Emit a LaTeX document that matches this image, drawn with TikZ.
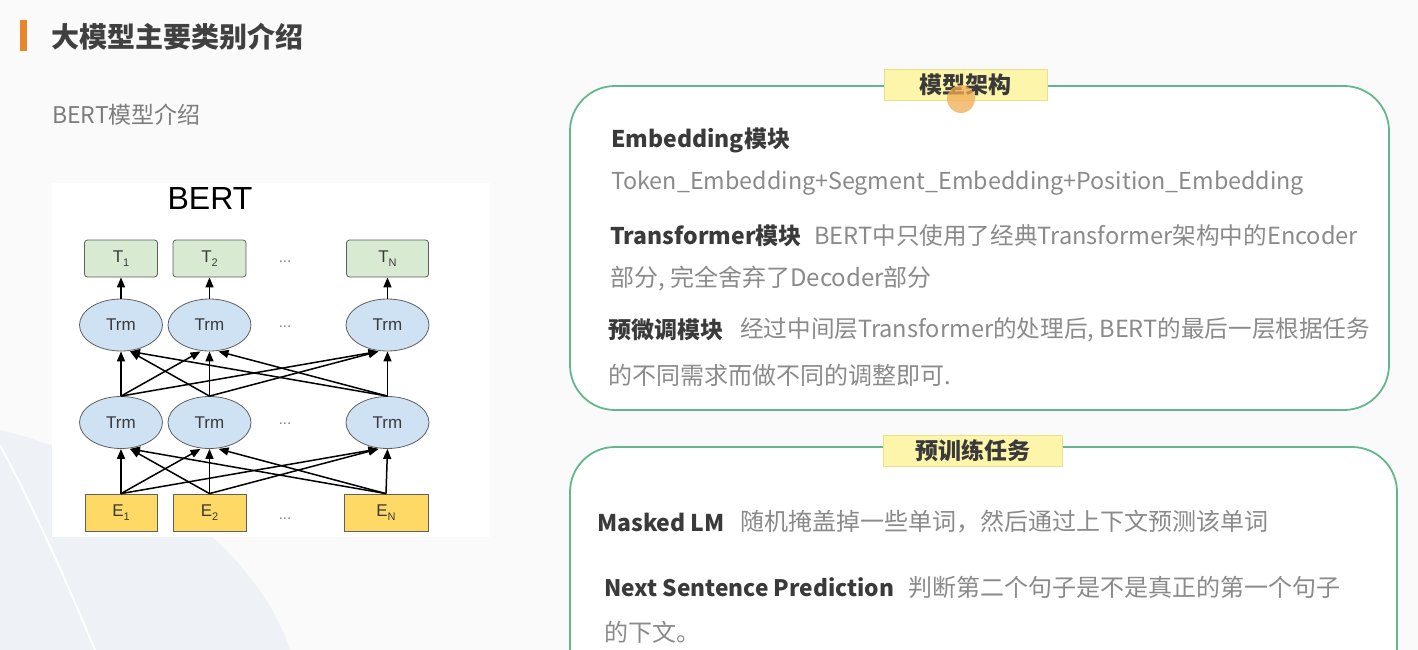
\documentclass[tikz,border=0pt]{standalone}
\usepackage{fontspec}
\setmainfont{Noto Sans CJK SC}
\newfontfamily\arial{Liberation Sans}
\usetikzlibrary{shapes.geometric,arrows.meta}
\definecolor{pagebg}{RGB}{250,250,251}
\definecolor{swoosh}{RGB}{238,241,245}
\definecolor{barorange}{RGB}{232,134,42}
\definecolor{headgray}{RGB}{64,64,64}
\definecolor{subgray}{RGB}{125,125,125}
\definecolor{boldgray}{RGB}{58,58,58}
\definecolor{lightgray}{RGB}{138,138,138}
\definecolor{edgegray}{RGB}{95,95,95}
\definecolor{tgreen}{RGB}{217,234,211}
\definecolor{tblue}{RGB}{207,226,243}
\definecolor{eyellow}{RGB}{255,217,102}
\definecolor{panelgreen}{RGB}{98,184,140}
\definecolor{tagfill}{RGB}{253,246,170}
\definecolor{tagedge}{RGB}{232,224,140}
\definecolor{cursor}{RGB}{240,172,84}
\newcommand{\sub}[1]{\raisebox{-4pt}{\fontsize{11}{11}\selectfont #1}}
\tikzset{
  tok/.style={draw=edgegray, line width=0.8pt, minimum height=37pt, inner sep=0pt,
    text=boldgray, font=\arial\fontsize{17}{17}\selectfont},
  outbox/.style={tok, fill=tgreen, rounded corners=3pt},
  embbox/.style={tok, fill=eyellow},
  trm/.style={ellipse, draw=edgegray, line width=0.8pt, fill=tblue, minimum width=83pt,
    minimum height=52pt, inner sep=0pt, text=boldgray, font=\arial\fontsize{17}{17}\selectfont},
  gap/.style={text=subgray, font=\arial\fontsize{15}{15}\selectfont, inner sep=0pt},
  link/.style={-{Triangle[length=10pt,width=8pt]}, line width=1.5pt, black},
  panel/.style={draw=panelgreen, line width=1.8pt, fill=white, rounded corners=45pt},
  tag/.style={draw=tagedge, line width=0.8pt, fill=tagfill, text=boldgray, inner sep=0pt,
    minimum height=31pt, font=\fontsize{23}{23}\selectfont\bfseries},
  strong/.style={anchor=west, inner sep=0pt, text=boldgray, font=\fontsize{23}{23}\selectfont\bfseries},
  plain/.style={anchor=west, inner sep=0pt, text=lightgray, font=\fontsize{24}{24}\selectfont},
}
\begin{document}
\begin{tikzpicture}[x=1pt,y=-1pt]
  \useasboundingbox (0,0) rectangle (1418,650);
  \clip (0,0) rectangle (1418,650);
  \fill[pagebg] (0,0) rectangle (1418,650);
  \fill[swoosh] (0,430) .. controls (160,470) and (260,560) .. (290,650) -- (0,650) -- cycle;
  \draw[white, line width=2pt] (0,445) .. controls (40,520) and (70,590) .. (95,650);

  % heading
  \fill[barorange] (20,20) rectangle (27,51);
  \node[anchor=west, inner sep=0pt, text=headgray, font=\fontsize{28}{28}\selectfont\bfseries]
    (title) at (51,37) {大模型主要类别介绍};
  \node[anchor=west, inner sep=0pt, text=subgray, font=\fontsize{23}{23}\selectfont]
    (subtitle) at (52,115) {BERT模型介绍};

  % BERT figure
  \fill[white] (52,183) rectangle (490,537);
  \node[font=\arial\fontsize{32}{32}\selectfont, text=black, inner sep=0pt] (bert) at (210,198) {BERT};
  \draw
    (121,258.5) node[outbox, minimum width=73pt] (out1) {T\sub{1}}
    (209.5,258.5) node[outbox, minimum width=73pt] (out2) {T\sub{2}}
    (387.5,258.5) node[outbox, minimum width=82pt] (outN) {T\sub{N}}
    (121,325) node[trm] (up1) {Trm}
    (209.5,325) node[trm] (up2) {Trm}
    (387.5,325) node[trm] (upN) {Trm}
    (121,422.5) node[trm] (low1) {Trm}
    (209.5,422.5) node[trm] (low2) {Trm}
    (387.5,422.5) node[trm] (lowN) {Trm}
    (121,512.5) node[embbox, minimum width=72pt] (emb1) {E\sub{1}}
    (209.5,512.5) node[embbox, minimum width=73pt] (emb2) {E\sub{2}}
    (386,512.5) node[embbox, minimum width=84pt] (embN) {E\sub{N}};
  \node[gap] (dotsT) at (285,262) {...};
  \node[gap] (dotsU) at (285,327) {...};
  \node[gap] (dotsL) at (285,424) {...};
  \node[gap] (dotsE) at (285,519) {...};
  \begin{scope}[link]
    \draw (emb1.north) to (low1.south);
    \draw (emb1.north) to ([xshift=-9pt]low2.south);
    \draw (emb1.north) to ([xshift=-9pt]lowN.south);
    \draw (emb2.north) to ([xshift=9pt]low1.south);
    \draw (emb2.north) to (low2.south);
    \draw (emb2.north) to ([xshift=-9pt]lowN.south);
    \draw (embN.north) to ([xshift=9pt]low1.south);
    \draw (embN.north) to ([xshift=9pt]low2.south);
    \draw (embN.north) to (lowN.south);
    \draw (low1.north) to (up1.south);
    \draw (low1.north) to ([xshift=-9pt]up2.south);
    \draw (low1.north) to ([xshift=-9pt]upN.south);
    \draw (low2.north) to ([xshift=9pt]up1.south);
    \draw (low2.north) to (up2.south);
    \draw (low2.north) to ([xshift=-9pt]upN.south);
    \draw (lowN.north) to ([xshift=9pt]up1.south);
    \draw (lowN.north) to ([xshift=9pt]up2.south);
    \draw (lowN.north) to (upN.south);
    \draw (up1.north) to (out1.south);
    \draw (up2.north) to (out2.south);
    \draw (upN.north) to (outN.south);
  \end{scope}

  % model architecture panel
  \draw[panel] (570,86) rectangle (1389,410);
  \node[tag, minimum width=163pt] (arch) at (965.5,84.5) {模型架构};
  \node[strong] (emb) at (611,140) {Embedding模块};
  \node[plain, font=\fontsize{23.3}{23.3}\selectfont] (embtxt) at (611,183)
    {Token\_Embedding+Segment\_Embedding+Position\_Embedding};
  \node[strong] (trf) at (610,236) {Transformer模块};
  \node[plain, font=\fontsize{23.6}{23.6}\selectfont] (trftxt) at (814,236)
    {BERT中只使用了经典Transformer架构中的Encoder};
  \node[plain] (trftxt2) at (610,279) {部分, 完全舍弃了Decoder部分};
  \node[strong] (ftn) at (608,330) {预微调模块};
  \node[plain, font=\fontsize{23.6}{23.6}\selectfont] (ftntxt) at (740,330)
    {经过中间层Transformer的处理后, BERT的最后一层根据任务};
  \node[plain] (ftntxt2) at (608,375) {的不同需求而做不同的调整即可.};

  % pre-training panel
  \draw[panel] (570,447) rectangle (1397,720);
  \node[tag, minimum width=179pt] (pretrain) at (972.5,450.5) {预训练任务};
  \node[strong] (mlm) at (597,522) {Masked LM};
  \node[plain] (mlmtxt) at (740,522) {随机掩盖掉一些单词，然后通过上下文预测该单词};
  \node[strong, font=\fontsize{22.7}{22.7}\selectfont\bfseries] (nsp) at (604,587) {Next Sentence Prediction};
  \node[plain] (nsptxt) at (908,587) {判断第二个句子是不是真正的第一个句子};
  \node[plain] (nsptxt2) at (604,632) {的下文。};

  % pointer mark
  \fill[cursor, opacity=0.75] (961,99) circle (14pt);
\end{tikzpicture}
\end{document}
